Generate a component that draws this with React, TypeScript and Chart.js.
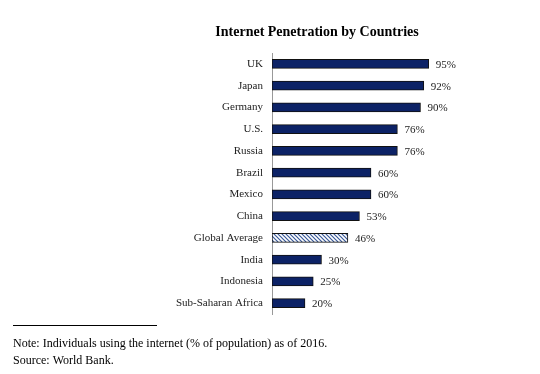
import React, { useEffect, useRef } from "react";
import { Chart, registerables } from "chart.js";

Chart.register(...registerables);

const categories = ["UK", "Japan", "Germany", "U.S.", "Russia", "Brazil", "Mexico", "China", "Global Average", "India", "Indonesia", "Sub-Saharan Africa"];
const values = [95, 92, 90, 76, 76, 60, 60, 53, 46, 30, 25, 20];
const highlighted = "Global Average";
const title = "Internet Penetration by Countries";
const noteLines = ["Note: Individuals using the internet (% of population) as of 2016.", "Source: World Bank."];

const NAVY = "#0c2266";
const FONT = "'Liberation Serif', 'Times New Roman', serif";

function makePattern(): CanvasPattern | string {
  const c = document.createElement("canvas");
  c.width = 4;
  c.height = 4;
  const ctx = c.getContext("2d");
  if (!ctx) return NAVY;
  ctx.fillStyle = "#ffffff";
  ctx.fillRect(0, 0, 4, 4);
  ctx.strokeStyle = "#3a5a9a";
  ctx.lineWidth = 1.2;
  ctx.beginPath();
  ctx.moveTo(-1, -1);
  ctx.lineTo(5, 5);
  ctx.moveTo(-1, 3);
  ctx.lineTo(1, 5);
  ctx.moveTo(3, -1);
  ctx.lineTo(5, 1);
  ctx.stroke();
  const p = ctx.createPattern(c, "repeat");
  return p || NAVY;
}

export default function App() {
  const ref = useRef<HTMLCanvasElement>(null);
  useEffect(() => {
    if (!ref.current) return;
    const pattern = makePattern();
    const extras = {
      id: "extras",
      afterDatasetsDraw(chart: any) {
        const ctx = chart.ctx;
        const meta = chart.getDatasetMeta(0);
        ctx.save();
        ctx.font = `11px ${FONT}`;
        ctx.fillStyle = "#222";
        ctx.textBaseline = "middle";
        ctx.textAlign = "left";
        meta.data.forEach((bar: any, i: number) => {
          ctx.fillText(values[i] + "%", bar.x + 7, bar.y + 1);
        });
        ctx.restore();
      },
      afterDraw(chart: any) {
        const ctx = chart.ctx;
        ctx.save();
        ctx.fillStyle = "#000";
        ctx.font = `bold 14px ${FONT}`;
        ctx.textAlign = "center";
        ctx.textBaseline = "middle";
        ctx.fillText(title, 317, 32);
        ctx.strokeStyle = "#000";
        ctx.lineWidth = 1;
        ctx.beginPath();
        ctx.moveTo(13, 325.5);
        ctx.lineTo(157, 325.5);
        ctx.stroke();
        ctx.font = `12px ${FONT}`;
        ctx.textAlign = "left";
        ctx.fillText(noteLines[0], 13, 344);
        ctx.fillText(noteLines[1], 13, 361);
        ctx.restore();
      },
    };
    const chart = new Chart(ref.current, {
      type: "bar",
      data: {
        labels: categories,
        datasets: [
          {
            data: values,
            backgroundColor: categories.map((c) => (c === highlighted ? pattern : NAVY)) as any,
            borderColor: "#111",
            borderWidth: 1,
            borderSkipped: false,
            barThickness: 9,
          },
        ],
      },
      options: {
        indexAxis: "y",
        animation: false,
        responsive: false,
        maintainAspectRatio: false,
        layout: { padding: { left: 0, top: 53, right: 103, bottom: 60 } },
        plugins: { legend: { display: false }, tooltip: { enabled: false }, title: { display: false } },
        scales: {
          x: { display: false, min: 0, max: 100 },
          y: {
            afterFit: (scale: any) => {
              scale.width = 272;
            },
            grid: { display: false, drawTicks: false },
            border: { display: true, color: "#999", width: 1 },
            ticks: { color: "#222", padding: 9, font: { family: FONT, size: 11 } },
          },
        },
      },
      plugins: [extras],
    });
    return () => chart.destroy();
  }, []);
  return (
    <div style={{ position: "absolute", left: 0, top: 0, width: 540, height: 374, background: "#fff" }}>
      <canvas ref={ref} width={540} height={374} style={{ width: 540, height: 374 }} />
    </div>
  );
}
